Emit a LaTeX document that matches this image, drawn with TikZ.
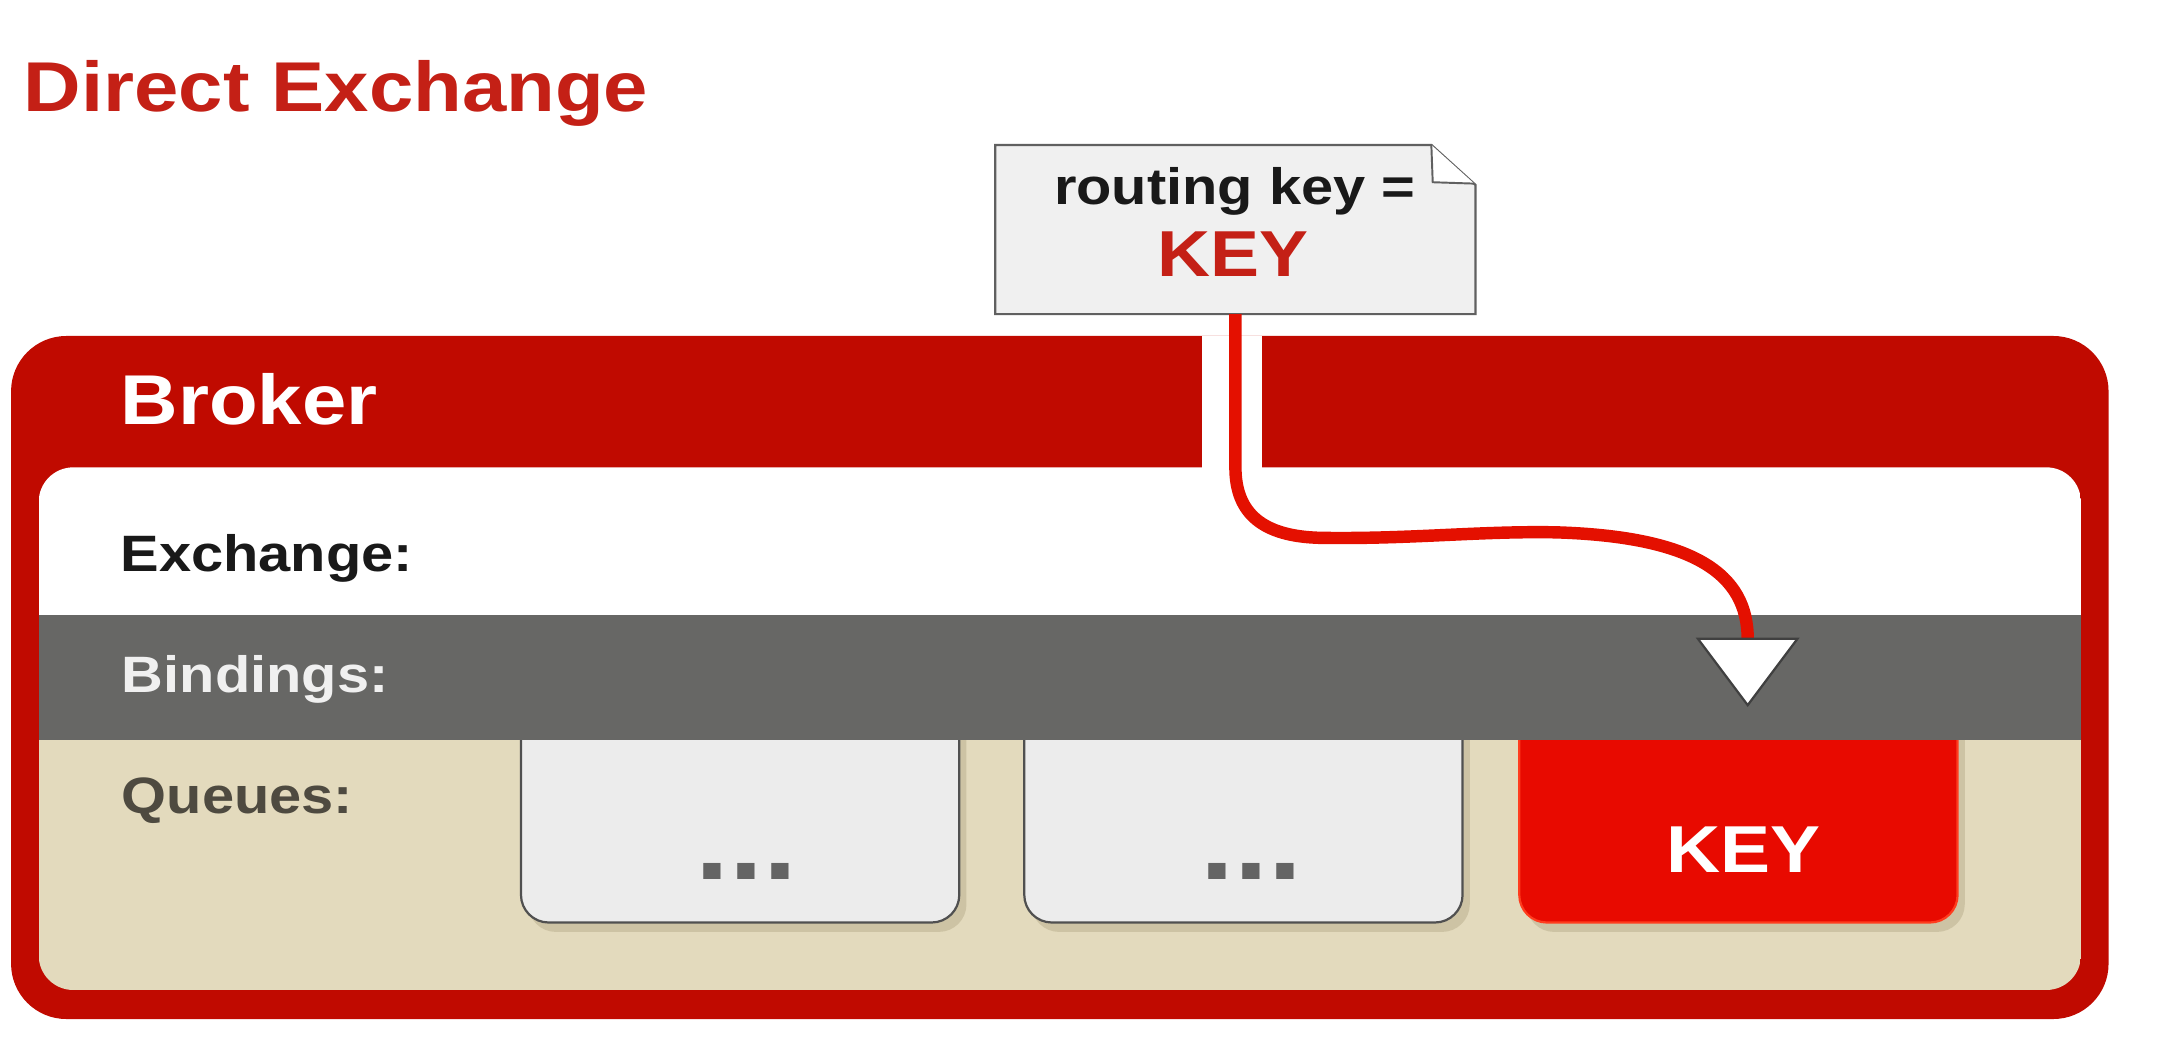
\documentclass[tikz,border=0pt]{standalone}
\usepackage{fontspec}
\setmainfont{Liberation Sans}[FakeStretch=1.13]
\usetikzlibrary{calc}
\definecolor{brokerred}{RGB}{192,10,0}
\definecolor{titlered}{RGB}{196,32,22}
\definecolor{linered}{RGB}{228,16,0}
\definecolor{bandgray}{RGB}{103,103,101}
\definecolor{beige}{RGB}{227,218,189}
\definecolor{shadowbeige}{RGB}{200,190,158}
\definecolor{qfill}{RGB}{236,236,236}
\definecolor{qborder}{RGB}{80,80,80}
\definecolor{qred}{RGB}{232,10,0}
\definecolor{qredborder}{RGB}{255,60,30}
\definecolor{notefill}{RGB}{240,240,240}
\definecolor{noteborder}{RGB}{96,96,96}
\definecolor{qtext}{RGB}{78,74,64}
\definecolor{dots}{RGB}{100,100,100}
\begin{document}
\begin{tikzpicture}[x=1pt,y=-1pt,
  lbl/.style={anchor=base west, inner sep=0, font=\bfseries\fontsize{37}{40}\selectfont},
  bigtxt/.style={anchor=base west, inner sep=0, font=\bfseries\fontsize{51}{55}\selectfont},
  qbox/.style={draw=qborder, line width=1.6, fill=qfill, rounded corners=20, minimum width=317, minimum height=180, inner sep=0},
  qboxred/.style={qbox, draw=qredborder, fill=qred},
  qshadow/.style={fill=shadowbeige, rounded corners=20, opacity=0.8},
  redline/.style={draw=linered, line width=9, line cap=butt},
  notebox/.style={draw=noteborder, line width=1.6, fill=notefill, line join=miter}
]
\useasboundingbox (0,0) rectangle (1568,762);
\fill[white] (0,0) rectangle (1568,762);

% title
\node[bigtxt, text=titlered] (title) at (17,81) {Direct Exchange};

% broker outer
\fill[brokerred, rounded corners=40] (8,243) rectangle (1525,737);
\fill[white] (869,243) rectangle (913,345);

% inner panel
\begin{scope}
  \clip[rounded corners=25] (28,338) rectangle (1505,716);
  \fill[white] (28,338) rectangle (1505,445);
  \fill[beige] (28,535) rectangle (1505,716);
  % queue shadows
  \fill[qshadow] (382,500) rectangle (699,674);
  \fill[qshadow] (746,500) rectangle (1063,674);
  \fill[qshadow] (1104,500) rectangle (1421,674);
  % queue boxes
  \node[qbox, anchor=south west] (q1) at (376,668) {};
  \node[qbox, anchor=south west] (q2) at (740,668) {};
  \node[qboxred, anchor=south west] (q3) at (1098,668) {};
  \fill[bandgray] (28,445) rectangle (1505,535);
\end{scope}

% labels
\node[bigtxt, text=white] (broker) at (87,307) {Broker};
\node[lbl, text=black!90] (exch) at (87,413) {Exchange:};
\node[lbl, text=white!94!black] (bind) at (88,501) {Bindings:};
\node[lbl, text=qtext] (queues) at (88,588) {Queues:};

% queue texts
\node[inner sep=0, anchor=base, text=dots, font=\bfseries\fontsize{78}{80}\selectfont] (d1) at (540,636) {...};
\node[inner sep=0, anchor=base, text=dots, font=\bfseries\fontsize{78}{80}\selectfont] (d2) at (905,636) {...};
\node[inner sep=0, anchor=base, text=white, font=\bfseries\fontsize{48}{52}\selectfont] (k3) at (1261,631) {KEY};

% note
\node[minimum width=347, minimum height=122, inner sep=0] (note) at (893.5,166) {};
\draw[notebox] (note.north west) -- ($(note.north east)+(-32,0)$) -- ($(note.north east)+(0,29)$) -- (note.south east) -- (note.south west) -- cycle;
\draw[draw=noteborder, line width=1.4, fill=white, line join=miter] ($(note.north east)+(-32,0)$) -- ($(note.north east)+(-31,27)$) -- ($(note.north east)+(-1,28)$);
\node[lbl, anchor=base, text=black!90] (rk) at (893,148) {routing key =};
\node[inner sep=0, anchor=base, text=titlered, font=\bfseries\fontsize{47}{50}\selectfont] (nkey) at (892,200) {KEY};

% routing line and arrow
\coordinate (arrtop) at (1264,462);
\draw[redline] (note.south) -- (893.5,338) .. controls (893.5,372) and (914,388) .. (955,389) .. controls (1020,390) and (1070,384) .. (1125,385) .. controls (1225,388) and (1264,415) .. (arrtop);
\coordinate (arrl) at (1228,462);
\coordinate (arrr) at (1300,462);
\coordinate (arrtip) at (1264,510);
\draw[fill=white, draw=black!75, line width=1.6, line join=miter] (arrl) -- (arrr) -- (arrtip) -- cycle;
\end{tikzpicture}
\end{document}
